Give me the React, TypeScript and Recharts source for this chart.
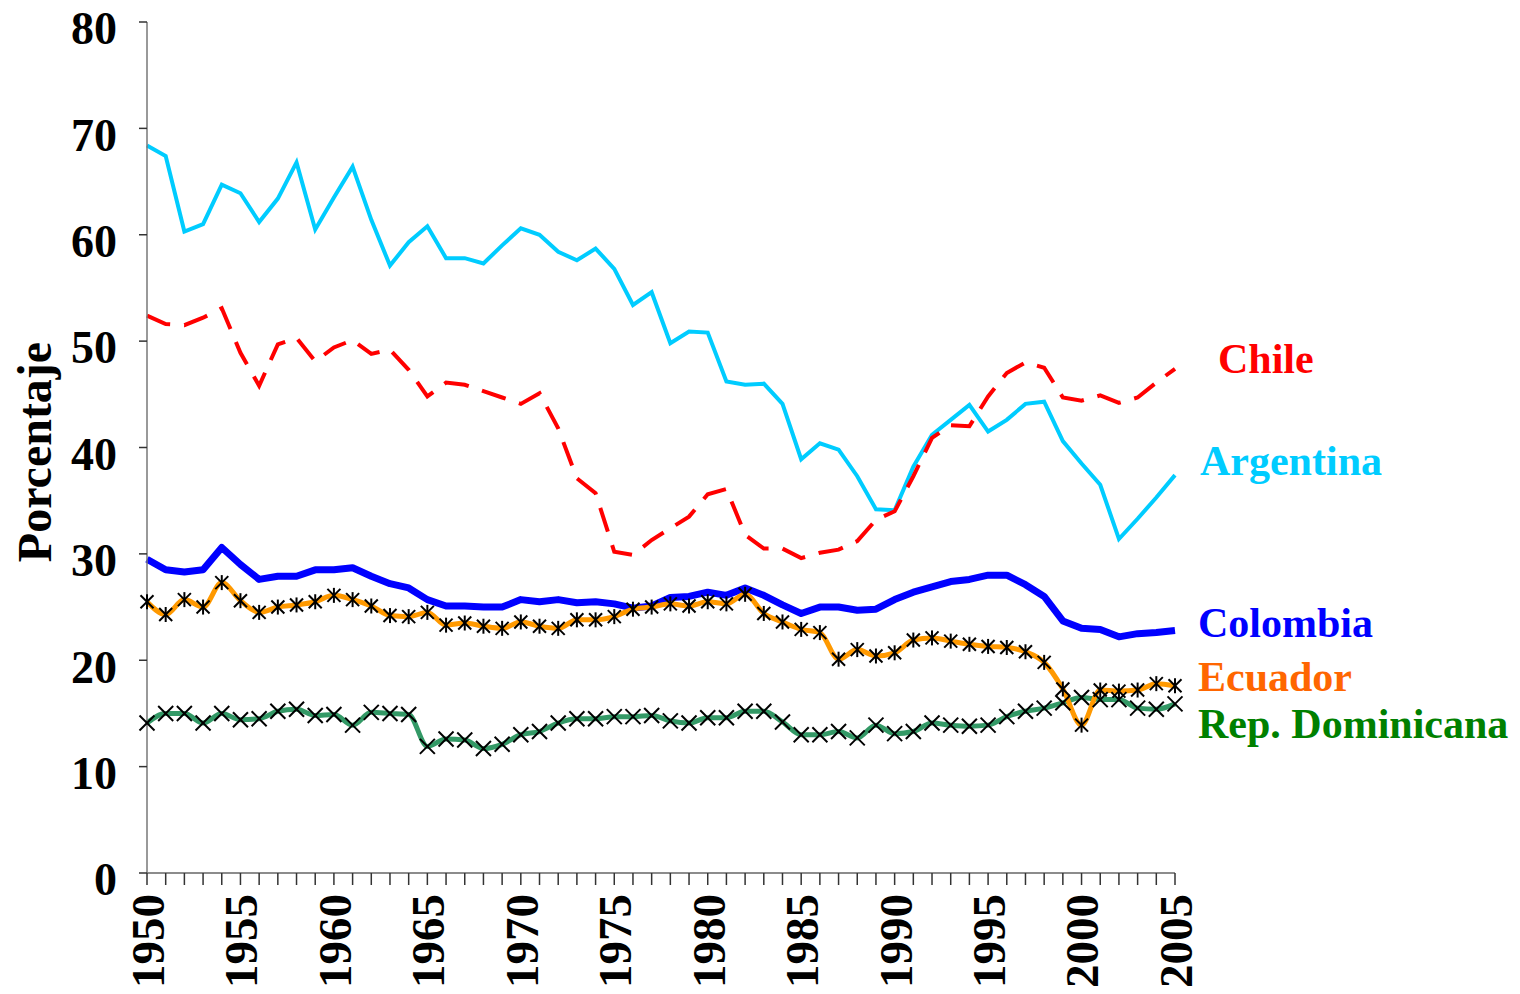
import React from "react";
import { LineChart, Line, XAxis, YAxis, Label } from "recharts";

const years = Array.from({ length: 56 }, (_, i) => 1950 + i);

const argentina = [
  68.4, 67.4, 60.3, 61.0, 64.7, 63.9, 61.2, 63.4, 66.8, 60.5,
  63.5, 66.4, 61.4, 57.1, 59.3, 60.8, 57.8, 57.8, 57.3, 59.0,
  60.6, 60.0, 58.4, 57.6, 58.7, 56.8, 53.4, 54.6, 49.8, 50.9,
  50.8, 46.2, 45.9, 46.0, 44.1, 38.9, 40.4, 39.8, 37.3, 34.2,
  34.1, 38.2, 41.2, 42.6, 44.0, 41.5, 42.6, 44.1, 44.3, 40.6,
  38.5, 36.5, 31.4, 33.3, 35.3, 37.4,
];
const chile = [
  52.4, 51.6, 51.5, 52.2, 53.1, 48.9, 45.8, 49.7, 50.3, 48.1,
  49.4, 50.1, 48.8, 49.2, 47.3, 44.8, 46.1, 45.9, 45.3, 44.7,
  44.1, 45.1, 41.8, 37.1, 35.7, 30.2, 29.9, 31.3, 32.4, 33.5,
  35.6, 36.1, 31.8, 30.5, 30.5, 29.6, 30.1, 30.4, 31.2, 33.2,
  34.0, 37.3, 40.9, 42.1, 42.0, 44.8, 47.0, 48.0, 47.5, 44.7,
  44.4, 44.9, 44.2, 44.7, 46.1, 47.4,
];
const colombia = [
  29.5, 28.5, 28.3, 28.5, 30.6, 29.0, 27.6, 27.9, 27.9, 28.5,
  28.5, 28.7, 27.9, 27.2, 26.8, 25.7, 25.1, 25.1, 25.0, 25.0,
  25.7, 25.5, 25.7, 25.4, 25.5, 25.3, 24.9, 25.1, 25.9, 26.0,
  26.4, 26.1, 26.8, 26.1, 25.2, 24.4, 25.0, 25.0, 24.7, 24.8,
  25.7, 26.4, 26.9, 27.4, 27.6, 28.0, 28.0, 27.1, 26.0, 23.7,
  23.0, 22.9, 22.2, 22.5, 22.6, 22.8,
];
const ecuador = [
  25.5, 24.3, 25.7, 25.0, 27.3, 25.6, 24.5, 25.0, 25.2, 25.5,
  26.1, 25.7, 25.1, 24.2, 24.1, 24.5, 23.3, 23.5, 23.2, 23.0,
  23.6, 23.2, 23.0, 23.8, 23.8, 24.1, 24.8, 25.0, 25.3, 25.1,
  25.5, 25.3, 26.2, 24.4, 23.6, 22.9, 22.6, 20.1, 21.0, 20.4,
  20.7, 21.9, 22.1, 21.8, 21.5, 21.3, 21.2, 20.8, 19.8, 17.3,
  13.9, 17.2, 17.1, 17.2, 17.8, 17.6,
];
const repDominicana = [
  14.1, 15.0, 15.0, 14.1, 15.0, 14.4, 14.5, 15.2, 15.4, 14.8,
  14.9, 13.9, 15.1, 15.0, 14.9, 11.9, 12.6, 12.5, 11.7, 12.1,
  13.0, 13.3, 14.1, 14.5, 14.5, 14.7, 14.7, 14.8, 14.3, 14.1,
  14.6, 14.6, 15.2, 15.2, 14.2, 13.0, 13.0, 13.3, 12.7, 13.9,
  13.1, 13.3, 14.1, 13.9, 13.8, 13.9, 14.7, 15.2, 15.5, 16.0,
  16.5, 16.3, 16.3, 15.5, 15.4, 15.9,
];

const yTicks = [0, 10, 20, 30, 40, 50, 60, 70, 80];

const data = years.map((year, i) => ({
  year,
  argentina: argentina[i],
  chile: chile[i],
  colombia: colombia[i],
  ecuador: ecuador[i],
  repDominicana: repDominicana[i],
}));

const font = "'Liberation Serif', 'Times New Roman', serif";

const XTick = (props: any) => {
  const { x, payload } = props;
  if (payload.value % 5 !== 0) return <g />;
  return (
    <g transform={`translate(${x},894)`}>
      <text
        transform="rotate(-90)"
        textAnchor="end"
        dy="0.36em"
        fontFamily={font}
        fontWeight="bold"
        fontSize={47}
        fill="#000"
      >
        {payload.value}
      </text>
    </g>
  );
};

const YTick = (props: any) => {
  const { y, payload } = props;
  return (
    <text
      x={117}
      y={y + 6}
      dy="0.355em"
      textAnchor="end"
      fontFamily={font}
      fontWeight="bold"
      fontSize={46}
      fill="#000"
    >
      {payload.value}
    </text>
  );
};

const Star = (props: any) => {
  const { cx, cy, index } = props;
  const s = 6.5;
  return (
    <g key={`e${index}`} stroke="#000" strokeWidth={2}>
      <line x1={cx - s} y1={cy - s} x2={cx + s} y2={cy + s} />
      <line x1={cx - s} y1={cy + s} x2={cx + s} y2={cy - s} />
      <line x1={cx} y1={cy - s - 1} x2={cx} y2={cy + s + 1} />
    </g>
  );
};

const Cross = (props: any) => {
  const { cx, cy, index } = props;
  const s = 7.5;
  return (
    <g key={`r${index}`} stroke="#000" strokeWidth={2}>
      <line x1={cx - s} y1={cy - s} x2={cx + s} y2={cy + s} />
      <line x1={cx - s} y1={cy + s} x2={cx + s} y2={cy - s} />
    </g>
  );
};

const seriesLabels = [
  { text: "Chile", color: "#FF0000", x: 1218, y: 373 },
  { text: "Argentina", color: "#00CCFF", x: 1200, y: 475 },
  { text: "Colombia", color: "#0000FF", x: 1198, y: 637 },
  { text: "Ecuador", color: "#FF6600", x: 1198, y: 691 },
  { text: "Rep. Dominicana", color: "#008000", x: 1198, y: 738 },
];

export default function App() {
  return (
    <div style={{ position: "absolute", left: 0, top: 0, width: 1520, height: 994, background: "#fff" }}>
      <LineChart
        width={1520}
        height={994}
        data={data}
        margin={{ top: 22, right: 345, left: 0, bottom: 0 }}
      >
        <XAxis
          dataKey="year"
          type="number"
          domain={[1950, 2005]}
          ticks={years}
          interval={0}
          height={121}
          tickSize={12}
          tick={<XTick />}
          axisLine={{ stroke: "#666", strokeWidth: 1.5 }}
          tickLine={{ stroke: "#333", strokeWidth: 1.5 }}
        />
        <YAxis
          type="number"
          domain={[0, 80]}
          ticks={yTicks}
          interval={0}
          width={147}
          tickSize={8}
          tick={<YTick />}
          axisLine={{ stroke: "#777", strokeWidth: 1.5 }}
          tickLine={{ stroke: "#333", strokeWidth: 1.5 }}
        >
          <Label
            content={() => (
              <text
                transform="translate(51,452) rotate(-90)"
                textAnchor="middle"
                fontFamily={font}
                fontWeight="bold"
                fontSize={48}
                fill="#000"
              >
                Porcentaje
              </text>
            )}
          />
        </YAxis>
        <Line
          dataKey="argentina"
          type="linear"
          stroke="#00CCFF"
          strokeWidth={4}
          dot={false}
          isAnimationActive={false}
        />
        <Line
          dataKey="chile"
          type="linear"
          stroke="#FF0000"
          strokeWidth={4}
          strokeDasharray="25 14"
          dot={false}
          isAnimationActive={false}
        />
        <Line
          dataKey="colombia"
          type="linear"
          stroke="#0000FF"
          strokeWidth={7}
          strokeLinejoin="round"
          dot={false}
          isAnimationActive={false}
        />
        <Line
          dataKey="repDominicana"
          type="monotone"
          stroke="#339966"
          strokeWidth={5}
          dot={<Cross />}
          isAnimationActive={false}
        />
        <Line
          dataKey="ecuador"
          type="monotone"
          stroke="#FF9900"
          strokeWidth={5}
          dot={<Star />}
          isAnimationActive={false}
        />
      </LineChart>
      {seriesLabels.map((l) => (
        <div
          key={l.text}
          style={{
            position: "absolute",
            left: l.x,
            top: l.y - 38,
            fontFamily: font,
            fontWeight: "bold",
            fontSize: 42,
            lineHeight: "48px",
            color: l.color,
            whiteSpace: "nowrap",
          }}
        >
          {l.text}
        </div>
      ))}
    </div>
  );
}
